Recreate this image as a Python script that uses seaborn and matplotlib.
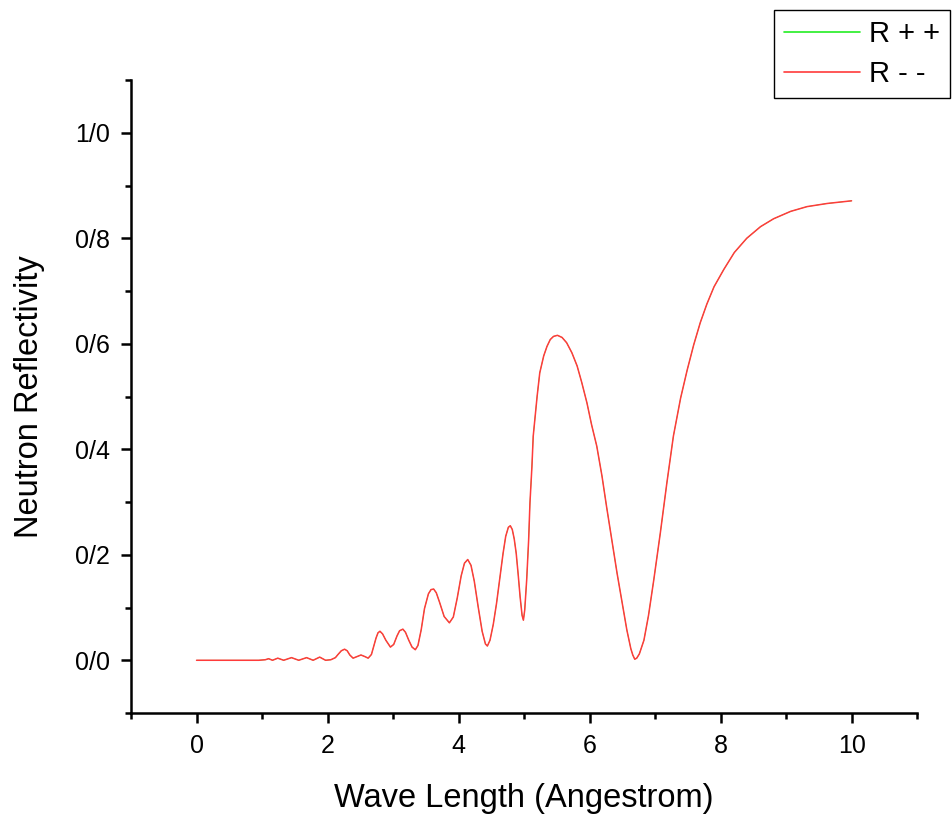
import numpy as np
import pandas as pd
import matplotlib
matplotlib.use("Agg")
import matplotlib.pyplot as plt
import seaborn as sns
from matplotlib.ticker import MultipleLocator, FuncFormatter

# values
wavelength = [0.0, 0.5, 0.95, 1.05, 1.10, 1.16, 1.24, 1.33, 1.45, 1.56, 1.68, 1.78,
              1.88, 1.97, 2.05, 2.12, 2.16, 2.21, 2.26, 2.30, 2.34, 2.39, 2.45, 2.51,
              2.57, 2.62, 2.67, 2.70, 2.74, 2.77, 2.80, 2.84, 2.89, 2.96, 3.01, 3.06,
              3.10, 3.15, 3.19, 3.24, 3.29, 3.34, 3.38, 3.43, 3.48, 3.54, 3.58, 3.62,
              3.66, 3.71, 3.78, 3.86, 3.92, 3.98, 4.04, 4.09, 4.14, 4.19, 4.24, 4.30,
              4.36, 4.41, 4.44, 4.48, 4.53, 4.58, 4.63, 4.68, 4.72, 4.76, 4.79, 4.82,
              4.85, 4.88, 4.91, 4.94, 4.97, 4.99, 5.01, 5.04, 5.07, 5.09, 5.12, 5.14,
              5.17, 5.20, 5.24, 5.30, 5.35, 5.40, 5.45, 5.51, 5.58, 5.65, 5.73, 5.81,
              5.88, 5.96, 6.03, 6.11, 6.19, 6.26, 6.34, 6.42, 6.50, 6.57, 6.63, 6.66,
              6.69, 6.72, 6.76, 6.83, 6.90, 6.98, 7.08, 7.18, 7.28, 7.39, 7.49, 7.59,
              7.69, 7.79, 7.90, 8.05, 8.21, 8.40, 8.61, 8.81, 9.07, 9.32, 9.63, 10.0]
r_minus = [0.0, 0.0, 0.0, 0.001, 0.003, 0.0, 0.004, 0.0, 0.005, 0.0, 0.005, 0.0,
           0.006, 0.0, 0.001, 0.005, 0.011, 0.018, 0.021, 0.018, 0.010, 0.004, 0.007, 0.010,
           0.007, 0.004, 0.011, 0.024, 0.042, 0.052, 0.055, 0.050, 0.038, 0.025, 0.030, 0.046,
           0.056, 0.059, 0.053, 0.038, 0.025, 0.020, 0.028, 0.058, 0.098, 0.126, 0.134, 0.135,
           0.128, 0.110, 0.083, 0.071, 0.082, 0.118, 0.160, 0.184, 0.191, 0.180, 0.150, 0.101,
           0.055, 0.031, 0.027, 0.038, 0.068, 0.108, 0.156, 0.203, 0.235, 0.252, 0.255, 0.248,
           0.230, 0.203, 0.163, 0.120, 0.085, 0.076, 0.095, 0.152, 0.228, 0.298, 0.367, 0.425,
           0.462, 0.501, 0.545, 0.577, 0.595, 0.608, 0.614, 0.616, 0.612, 0.602, 0.583, 0.558,
           0.527, 0.488, 0.447, 0.406, 0.349, 0.291, 0.228, 0.165, 0.108, 0.057, 0.022, 0.010,
           0.002, 0.004, 0.012, 0.038, 0.085, 0.152, 0.241, 0.336, 0.425, 0.497, 0.550, 0.598,
           0.640, 0.675, 0.708, 0.741, 0.773, 0.800, 0.822, 0.837, 0.851, 0.860, 0.866, 0.871]
# R++ coincides with R-- in the reference (hidden underneath)
r_plus = list(r_minus)

series_names = ["R + +", "R - -"]
series_colors = ["#22ee22", "#ff3b3b"]

sns.set_theme(style="ticks")
plt.rcParams['font.family'] = ['Liberation Sans', 'DejaVu Sans']
plt.rcParams['text.color'] = 'black'
plt.rcParams['axes.labelcolor'] = 'black'

fig = plt.figure(figsize=(9.53, 8.19), dpi=100)
ax = fig.add_axes([0.1375, 0.1294, 0.8248, 0.7729])

# green series first and thinner so the red one fully covers it
sns.lineplot(x=wavelength, y=r_plus, color=series_colors[0], linewidth=0.5, ax=ax)
sns.lineplot(x=wavelength, y=r_minus, color=series_colors[1], linewidth=1.1, ax=ax)

ax.set_xlim(-1, 11)
ax.set_ylim(-0.1, 1.1)
ax.xaxis.set_major_locator(MultipleLocator(2))
ax.xaxis.set_minor_locator(MultipleLocator(1))
ax.yaxis.set_major_locator(MultipleLocator(0.2))
ax.yaxis.set_minor_locator(MultipleLocator(0.1))
ax.yaxis.set_major_formatter(FuncFormatter(lambda v, p: f"{v:.1f}".replace(".", "/").replace("-0/0", "0/0")))
ax.xaxis.set_major_formatter(FuncFormatter(lambda v, p: f"{v:.0f}"))

sns.despine(ax=ax)
for s in ["left", "bottom"]:
    ax.spines[s].set_linewidth(1.8)
    ax.spines[s].set_color("black")
ax.tick_params(which="major", direction="out", length=7, width=1.8, labelsize=18,
               pad=8, colors="black")
ax.tick_params(which="minor", direction="out", length=4, width=1.8, colors="black")

ax.set_xlabel("Wave Length (Angestrom)", fontsize=23.5, labelpad=18)
ax.set_ylabel("Neutron Reflectivity", fontsize=23.5, labelpad=22)

handles = [plt.Line2D([], [], color=c, lw=1.2) for c in series_colors]
leg = fig.legend(handles, series_names, loc="upper right",
                 bbox_to_anchor=(950 / 953, 1 - 10 / 819), borderaxespad=0,
                 fontsize=21, frameon=True, fancybox=False, framealpha=1,
                 edgecolor="black", handlelength=2.6, handletextpad=0.3,
                 borderpad=0.35, labelspacing=0.4)
leg.get_frame().set_linewidth(1.0)

fig.savefig("out.png", dpi=100)
